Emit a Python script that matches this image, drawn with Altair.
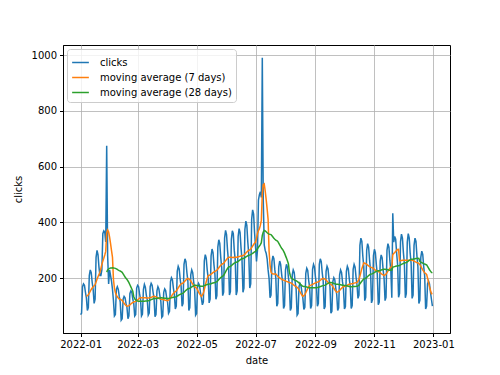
import altair as alt
import pandas as pd

# Daily clicks for 2022, one row per week (Saturday .. Friday)
week_rows = [
    [70, 75, 170, 180, 175, 150, 130],
    [85, 95, 210, 230, 220, 185, 160],
    [110, 125, 275, 300, 285, 240, 210],
    [210, 230, 360, 370, 365, 330, 675],
    [280, 180, 230, 210, 190, 160, 120],
    [65, 70, 160, 170, 160, 135, 115],
    [50, 55, 125, 135, 130, 110, 95],
    [55, 65, 145, 155, 150, 125, 110],
    [65, 70, 165, 175, 170, 145, 125],
    [65, 72, 160, 178, 168, 140, 122],
    [68, 75, 170, 182, 175, 150, 128],
    [62, 70, 155, 170, 162, 138, 118],
    [60, 65, 150, 162, 156, 132, 114],
    [75, 82, 188, 202, 195, 165, 142],
    [90, 100, 225, 243, 234, 198, 171],
    [100, 110, 250, 270, 260, 220, 190],
    [85, 95, 212, 230, 220, 187, 160],
    [68, 74, 170, 182, 175, 150, 128],
    [105, 115, 262, 285, 272, 230, 200],
    [112, 125, 280, 305, 292, 248, 213],
    [125, 138, 312, 338, 325, 275, 238],
    [138, 150, 344, 372, 357, 302, 262],
    [140, 152, 340, 370, 360, 300, 265],
    [140, 155, 350, 378, 364, 308, 266],
    [150, 165, 375, 405, 390, 330, 285],
    [165, 180, 412, 445, 430, 363, 313],
    [260, 300, 480, 500, 510, 490, 990],
    [480, 320, 300, 290, 270, 230, 200],
    [130, 140, 260, 280, 270, 230, 200],
    [100, 110, 240, 262, 250, 215, 185],
    [92, 102, 230, 250, 240, 204, 176],
    [85, 94, 212, 230, 221, 187, 161],
    [68, 74, 170, 182, 175, 150, 128],
    [88, 96, 218, 236, 228, 192, 166],
    [92, 102, 232, 250, 240, 204, 176],
    [100, 110, 250, 270, 260, 220, 190],
    [90, 99, 225, 243, 234, 198, 171],
    [75, 82, 188, 202, 195, 165, 142],
    [85, 94, 212, 230, 221, 187, 161],
    [90, 99, 225, 243, 234, 198, 171],
    [92, 102, 232, 250, 240, 204, 176],
    [128, 140, 318, 344, 332, 280, 242],
    [120, 132, 300, 324, 312, 264, 228],
    [112, 124, 281, 304, 292, 248, 214],
    [105, 115, 262, 284, 273, 231, 200],
    [120, 132, 300, 324, 312, 264, 228],
    [130, 433, 330, 350, 340, 290, 250],
    [132, 146, 331, 358, 344, 292, 252],
    [130, 145, 330, 360, 345, 290, 252],
    [128, 140, 318, 344, 332, 280, 242],
    [110, 121, 275, 297, 286, 242, 209],
    [90, 100, 180, 190, 180, 150, 125],
]
last_day = [100]

series_names = ["clicks", "moving average (7 days)", "moving average (28 days)"]
series_colors = ["#1f77b4", "#ff7f0e", "#2ca02c"]
tick_dates = ["2022-01-01", "2022-03-01", "2022-05-01", "2022-07-01",
              "2022-09-01", "2022-11-01", "2023-01-01"]
y_ticks = [200, 400, 600, 800, 1000]

clicks = [v for row in week_rows for v in row] + last_day
dates = pd.date_range("2022-01-01", periods=len(clicks), freq="D")
s = pd.Series(clicks, dtype=float)
ma7 = s.rolling(7).mean()
ma28 = s.rolling(28).mean()

frames = []
for name, ser in zip(series_names, [s, ma7, ma28]):
    f = pd.DataFrame({"date": dates.strftime("%Y-%m-%d"), "value": ser, "series": name})
    frames.append(f.dropna())
df = pd.concat(frames, ignore_index=True)


def dt(y, m, d, h=0):
    return alt.DateTime(year=y, month=m, date=d, hours=h, utc=True)


tick_values = [dt(int(t[:4]), int(t[5:7]), int(t[8:])) for t in tick_dates]

x_enc = alt.X(
    "date:T",
    title="date",
    scale=alt.Scale(type="utc", domain=[dt(2021, 12, 13, 19), dt(2023, 1, 18, 5)]),
    axis=alt.Axis(values=tick_values, labelExpr="utcFormat(datum.value, '%Y-%m')",
                  titlePadding=6),
)
y_enc = alt.Y(
    "value:Q",
    title="clicks",
    scale=alt.Scale(domain=[4, 1036], nice=False, zero=False),
    axis=alt.Axis(values=y_ticks, format="d", titlePadding=8),
)
color_enc = alt.Color(
    "series:N",
    scale=alt.Scale(domain=series_names, range=series_colors),
    legend=alt.Legend(title=None),
)

layers = []
for name in series_names:
    layers.append(
        alt.Chart(df)
        .transform_filter(alt.datum.series == name)
        .mark_line(strokeWidth=1.5, clip=True)
        .encode(x=x_enc, y=y_enc, color=color_enc)
    )

chart = (
    alt.layer(*layers)
    .properties(
        width=387,
        height=288,
        autosize=alt.AutoSizeParams(type="none"),
        padding={"left": 55, "top": 37, "right": 42, "bottom": 40},
        background="white",
    )
    .configure_view(stroke="black", strokeWidth=1)
    .configure_axis(
        labelFont="DejaVu Sans",
        titleFont="DejaVu Sans",
        labelFontSize=10,
        titleFontSize=10,
        titleFontWeight="normal",
        labelColor="black",
        titleColor="black",
        tickColor="black",
        domainColor="black",
        tickSize=3.5,
        labelPadding=3,
        gridColor="#b0b0b0",
        gridWidth=0.8,
    )
    .configure_legend(
        orient="none",
        legendX=4,
        legendY=4,
        fillColor="rgba(255,255,255,0.8)",
        strokeColor="#cccccc",
        cornerRadius=3,
        padding=4,
        labelFont="DejaVu Sans",
        labelFontSize=10,
        labelColor="black",
        symbolType="stroke",
        symbolStrokeWidth=1.5,
        symbolSize=280,
        labelOffset=10,
        rowPadding=0,
    )
)

chart.save("out.html", embed_options={"renderer": "svg", "actions": False})
